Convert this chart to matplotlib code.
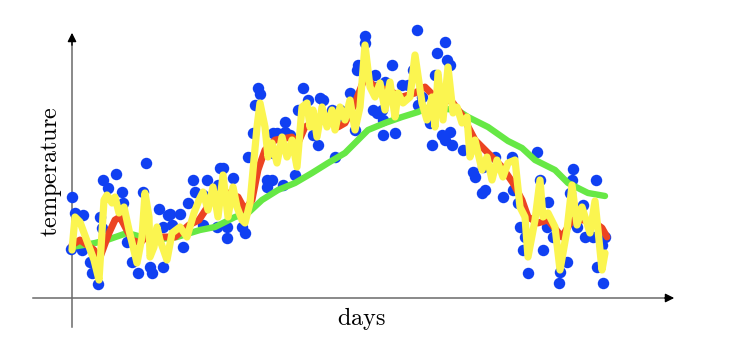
import matplotlib
matplotlib.use("Agg")
import matplotlib.pyplot as plt
import numpy as np

# daily readings (day, temperature)
days = [0.25, 0.5, 1.25, 3.25, 3.0, 5.0, 5.5, 7.0, 7.5, 8.0, 8.25, 9.5, 11.5, 13.0,
        13.25, 14.25, 15.5, 17.0, 18.25, 19.0, 20.0, 20.5, 22.25, 23.25, 23.25, 24.5,
        25.0, 25.5, 27.5, 28.25, 29.5, 30.75, 31.25, 33.25, 33.25, 34.25, 36.75, 37.0,
        37.5, 38.25, 39.25, 39.25, 40.75, 43.0, 43.75, 44.5, 45.75, 46.25, 47.0, 47.5,
        49.25, 49.25, 50.5, 50.5, 50.75, 50.75, 51.75, 53.25, 53.75, 53.75, 55.0, 56.25,
        57.0, 58.25, 59.5, 60.75, 61.25, 62.0, 62.5, 63.25, 65.5, 66.25, 67.5, 68.0,
        70.0, 70.75, 71.25, 71.75, 72.0, 73.75, 73.75, 75.75, 76.25, 76.75, 76.75, 78.0,
        78.25, 78.25, 78.75, 80.5, 81.25, 83.0, 84.5, 85.75, 86.75, 87.0, 88.0, 90.0,
        90.5, 91.25, 91.75, 93.0, 93.75, 93.75, 94.25, 95.0, 95.0, 95.5, 98.25, 100.75,
        101.25, 103.25, 103.0, 103.75, 106.25, 108.25, 110.5, 110.75, 112.0, 112.5,
        113.25, 113.75, 114.5, 116.75, 117.5, 118.25, 119.25, 119.5, 120.75, 122.25,
        122.5, 124.25, 125.0, 125.5, 125.75, 126.75, 128.25, 128.75, 130.75, 131.5,
        131.75, 133.0, 133.25, 133.75]
temps = [39.8, 50.2, 47.0, 46.6, 39.6, 37.2, 35.0, 32.8, 46.2, 44.0, 53.6, 52.0, 54.8, 51.2,
         49.0, 41.2, 37.2, 35.0, 51.2, 57.0, 36.2, 35.0, 47.8, 44.2, 36.2, 46.6,
         46.8, 44.6, 46.8, 40.2, 49.0, 53.6, 51.2, 50.6, 44.6, 53.6, 44.2, 52.6,
         56.0, 56.0, 44.2, 42.0, 54.0, 44.2, 43.0, 58.2, 63.0, 68.6, 72.0, 70.8,
         53.6, 52.2, 59.2, 53.6, 63.0, 59.0, 63.0, 52.6, 65.2, 63.2, 62.6, 54.6,
         67.6, 72.0, 69.6, 62.6, 65.6, 60.6, 70.0, 69.6, 67.6, 58.2, 67.6, 65.6,
         71.0, 69.0, 63.6, 75.6, 76.6, 82.4, 81.0, 67.6, 74.6, 72.2, 67.0, 67.6,
         65.6, 62.6, 73.2, 76.6, 63.0, 72.6, 72.6, 75.6, 83.6, 68.6, 70.2, 65.0,
         60.6, 74.6, 79.0, 62.6, 81.2, 61.6, 77.6, 76.6, 63.2, 60.6, 59.6, 55.2,
         54.2, 56.2, 51.0, 51.6, 58.2, 50.2, 58.2, 51.6, 49.0, 44.2,
         39.6, 42.2, 35.0, 59.2, 53.6, 39.6, 44.2, 49.2, 42.2, 33.0,
         35.2, 37.2, 51.0, 53.6, 55.8, 44.2, 48.6, 42.2, 42.2, 53.6,
         36.2, 40.6, 33.0, 42.2]

# fast-reacting average (yellow)
yellow_days = [0.5, 1.25, 2.5, 6.0, 7.25, 8.5, 9.25, 10.5, 11.25, 12.25, 13.5, 14.75, 16.75,
               18.0, 18.75, 19.75, 20.0, 21.0, 21.75, 22.5, 24.25, 25.5, 27.5, 29.25, 31.0,
               32.25, 33.25, 34.5, 35.75, 37.0, 38.25, 39.5, 40.75, 41.75, 43.0, 43.75, 45.0,
               46.75, 47.5, 48.75, 49.5, 50.5, 51.75, 53.0, 54.25, 55.5, 56.75, 58.0, 59.25,
               60.0, 60.75, 61.75, 63.0, 64.25, 65.5, 66.25, 67.5, 68.75, 70.0, 71.25, 72.5,
               73.75, 75.0, 76.25, 77.5, 78.75, 80.0, 81.25, 82.0, 83.25, 85.0, 86.25, 88.0,
               89.25, 90.5, 91.25, 92.0, 93.25, 94.5, 95.75, 96.75, 98.0, 99.25, 100.0,
               101.25, 103.0, 104.25, 105.5, 106.75, 108.25, 109.5, 111.25, 112.5, 113.75,
               114.5, 116.25, 117.5, 118.25, 119.5, 121.25, 122.5, 124.25, 125.5, 126.75,
               128.0, 130.0, 131.25, 132.0, 133.0, 133.75]
yellow_vals = [39.6, 46.2, 45.2, 37.6, 33.6, 49.6, 50.6, 49.0, 50.2, 47.0, 48.2, 43.6, 37.0,
               42.2, 51.0, 46.2, 38.2, 40.2, 44.2, 41.6, 37.6, 43.0, 44.2, 42.2, 47.0,
               49.6, 51.2, 47.6, 52.2, 46.2, 54.6, 46.2, 52.2, 48.2, 45.6, 45.0, 49.0,
               64.2, 69.0, 64.2, 58.2, 61.0, 57.0, 62.2, 58.2, 61.6, 56.2, 68.2, 69.0,
               64.2, 67.6, 62.2, 68.2, 64.2, 67.6, 63.6, 68.2, 65.6, 69.6, 63.6, 68.2,
               80.6, 72.2, 70.2, 73.0, 67.6, 73.2, 66.2, 71.0, 69.0, 70.2, 78.6, 69.0,
               65.6, 70.2, 64.2, 75.0, 65.6, 76.2, 67.0, 68.2, 65.0, 66.2, 58.2,
               61.6, 55.6, 58.2, 53.6, 57.6, 54.2, 57.0, 57.6, 48.2, 46.2,
               38.2, 45.6, 53.6, 46.2, 47.0, 44.2, 35.6, 43.6, 52.6, 44.6,
               48.2, 43.0, 49.4, 43.6, 35.6, 39.0]

# medium average (red)
red_days = [0.5, 2.5, 6.0, 7.25, 9.75, 11.25, 12.5, 15.5, 17.5, 20.0, 23.0, 26.25, 29.75,
            32.25, 35.5, 39.5, 42.0, 43.75, 45.5, 47.0, 48.75, 51.25, 55.5, 57.0, 58.75,
            60.5, 64.5, 67.0, 68.75, 71.25, 73.75, 76.25, 79.5, 83.0, 86.25, 88.75, 91.25,
            93.75, 95.75, 98.0, 101.25, 104.5, 108.0, 110.75, 113.0, 114.5, 117.0, 119.5,
            123.0, 125.5, 128.25, 130.5, 133.0, 134.25]
red_vals = [40.6, 41.6, 39.6, 37.6, 43.0, 45.6, 46.2, 41.6, 41.0, 43.0, 42.2, 42.2, 44.6,
            45.6, 49.6, 51.0, 50.2, 47.6, 49.6, 55.6, 59.6, 61.6, 62.2, 61.0, 64.2,
            65.0, 65.6, 64.2, 65.0, 69.0, 74.2, 72.2, 71.6, 70.2, 71.0, 72.2, 70.2,
            70.2, 69.0, 66.6, 61.6, 59.0, 56.2, 53.0, 49.6, 46.2, 45.0, 45.6,
            42.2, 45.6, 45.6, 45.4, 44.0, 42.2]

# slow average (green)
green_days = [0.5, 6.25, 9.25, 14.25, 20.75, 26.75, 32.5, 36.25, 41.25, 44.5, 48.0, 52.0,
              56.25, 60.5, 64.5, 68.75, 71.25, 74.5, 78.75, 83.0, 87.0, 89.25, 91.25, 96.75,
              99.5, 104.5, 109.5, 113.0, 116.25, 121.25, 124.5, 129.5, 133.75]
green_vals = [40.2, 41.0, 41.6, 43.0, 41.6, 42.2, 43.6, 44.2, 46.2, 47.0, 49.6, 51.6,
              53.0, 55.0, 57.0, 59.0, 61.0, 63.6, 65.0, 66.2, 67.2, 68.0, 68.0, 67.6,
              66.2, 64.2, 61.4, 60.0, 57.6, 55.6, 53.0, 51.0, 50.4]

plt.rcParams['mathtext.fontset'] = 'cm'

fig = plt.figure(figsize=(7.34, 3.48), dpi=100)
ax = fig.add_axes([0, 0, 1, 1])
ax.set_xlim(-17.5, 166)
ax.set_ylim(20, 89.6)
ax.axis('off')

# axes with arrow heads
ax.plot([-9.25, 150], [30, 30], color='#6a6a6a', lw=1.1, zorder=1)
ax.plot([0.5, 0.5], [24.2, 82], color='#6a6a6a', lw=1.1, zorder=1)
ax.annotate('', xy=(151.75, 30), xytext=(148, 30),
            arrowprops=dict(arrowstyle='-|>', color='black', lw=1, mutation_scale=13))
ax.annotate('', xy=(0.5, 83.6), xytext=(0.5, 80),
            arrowprops=dict(arrowstyle='-|>', color='black', lw=1, mutation_scale=13))

ax.scatter(days, temps, s=68, color='#1040f2', zorder=2, linewidths=0)

line_kw = dict(solid_joinstyle='round', solid_capstyle='round')
ax.plot(green_days, green_vals, color='#66e845', lw=4.6, zorder=3, **line_kw)
ax.plot(red_days, red_vals, color='#ec4422', lw=5.0, zorder=4, **line_kw)
ax.plot(yellow_days, yellow_vals, color='#fbf550', lw=5.2, zorder=5, **line_kw)

ax.text(-4.5, 55.2, r'$\mathrm{temperature}$', rotation=90, ha='center', va='center',
        fontsize=17.5)
ax.text(73, 26.0, r'$\mathrm{days}$', ha='center', va='center', fontsize=17.5)

fig.savefig('out.png', dpi=100)
